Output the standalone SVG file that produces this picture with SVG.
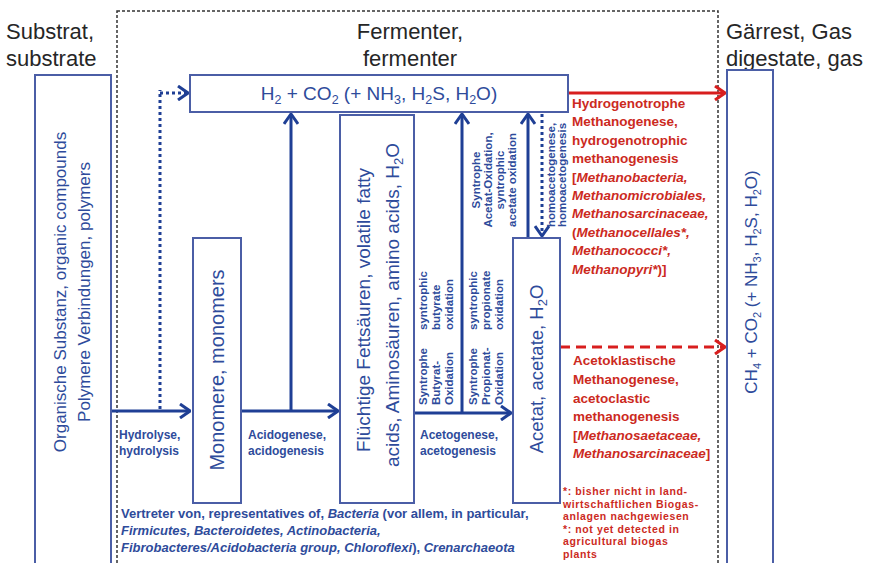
<svg xmlns="http://www.w3.org/2000/svg" width="880" height="563" viewBox="0 0 880 563">
<style>
.hdr{font-family:"Liberation Sans",Arial,sans-serif;font-size:22px;fill:#262626}
.box{fill:#fff;stroke:#4b5ea6;stroke-width:2}
.bt{font-family:"Liberation Sans",Arial,sans-serif;fill:#2e4b9b}
.lab{font-family:"Liberation Sans",Arial,sans-serif;font-size:12px;font-weight:bold;fill:#2e4b9b}
.bot{font-family:"Liberation Sans",Arial,sans-serif;font-size:13px;font-weight:bold;fill:#2e4b9b}
.sm{font-family:"Liberation Sans",Arial,sans-serif;font-size:11.5px;font-weight:bold;fill:#2e4b9b}
.red{font-family:"Liberation Sans",Arial,sans-serif;font-size:13.5px;font-weight:bold;fill:#cc2a1e}
.fn{font-family:"Liberation Sans",Arial,sans-serif;font-size:10.5px;letter-spacing:0.6px;font-weight:bold;fill:#cc2a1e}
.ar{fill:none;stroke:#1f3f95;stroke-width:3}
.ard{fill:none;stroke:#1f3f95;stroke-width:3;stroke-dasharray:3 3}
.rr{fill:none;stroke:#d81e1e;stroke-width:3}
</style>
<defs>
<marker id="hb" viewBox="0 0 12 16" markerWidth="12" markerHeight="16" markerUnits="userSpaceOnUse" refX="11" refY="8" orient="auto"><path d="M1,1 L11,8 L1,15" fill="none" stroke="#1f3f95" stroke-width="3"/></marker>
<marker id="hr" viewBox="0 0 12 16" markerWidth="12" markerHeight="16" markerUnits="userSpaceOnUse" refX="11" refY="8" orient="auto"><path d="M1,1 L11,8 L1,15" fill="none" stroke="#d81e1e" stroke-width="3"/></marker>
</defs>
<rect width="880" height="563" fill="#fff"/>
<rect x="117" y="11" width="601" height="570" fill="none" stroke="#333" stroke-width="1.5" stroke-dasharray="3 2"/>
<text class="hdr" x="6" y="39">Substrat,</text>
<text class="hdr" x="6" y="66">substrate</text>
<text class="hdr" x="410" y="39" text-anchor="middle">Fermenter,</text>
<text class="hdr" x="410" y="66" text-anchor="middle">fermenter</text>
<text class="hdr" x="726" y="39">Gärrest, Gas</text>
<text class="hdr" x="726" y="66">digestate, gas</text>

<g id="connectors">
<path class="ar" d="M111,411 H190" marker-end="url(#hb)"/>
<path class="ard" d="M160,409 V90 M160,93 H188" marker-end="url(#hb)"/>
<path class="ar" d="M241,411 H338" marker-end="url(#hb)"/>
<path class="ar" d="M291,411 V114" marker-end="url(#hb)"/>
<path class="ar" d="M414,413 H511" marker-end="url(#hb)"/>
<path class="ar" d="M462,413 V114" marker-end="url(#hb)"/>
<path class="ar" d="M528,238 V114" marker-end="url(#hb)"/>
<path class="ard" d="M542,114 V236" marker-end="url(#hb)"/>
<path class="rr" d="M568,93 H725" marker-end="url(#hr)"/>
<path class="rr" d="M560,347 H725" stroke-dasharray="10 6" marker-end="url(#hr)"/>
</g>

<g id="organic">
<rect class="box" x="35" y="75" width="76" height="500"/>
<text class="bt" font-size="17" transform="translate(66,292) rotate(-90)" text-anchor="middle">Organische Substanz, organic compounds</text>
<text class="bt" font-size="17" transform="translate(90,292) rotate(-90)" text-anchor="middle">Polymere Verbindungen, polymers</text>
</g>

<g id="gas">
<rect class="box" x="190" y="75" width="378" height="37"/>
<text class="bt" font-size="19" x="379" y="100" text-anchor="middle">H<tspan font-size="12.5" dy="4">2</tspan><tspan dy="-4"> + CO</tspan><tspan font-size="12.5" dy="4">2</tspan><tspan dy="-4"> (+ NH</tspan><tspan font-size="12.5" dy="4">3</tspan><tspan dy="-4">, H</tspan><tspan font-size="12.5" dy="4">2</tspan><tspan dy="-4">S, H</tspan><tspan font-size="12.5" dy="4">2</tspan><tspan dy="-4">O)</tspan></text>
</g>

<g id="monomere">
<rect class="box" x="193" y="238" width="48" height="265"/>
<text class="bt" font-size="20" transform="translate(224,370) rotate(-90)" text-anchor="middle">Monomere, monomers</text>
</g>

<g id="fatty">
<rect class="box" x="340" y="115" width="74" height="388"/>
<text class="bt" font-size="19" transform="translate(370,310) rotate(-90)" text-anchor="middle">Flüchtige Fettsäuren, volatile fatty</text>
<text class="bt" font-size="19" transform="translate(399,305) rotate(-90)" text-anchor="middle">acids, Aminosäuren, amino acids, H<tspan font-size="13" dy="4">2</tspan><tspan dy="-4">O</tspan></text>
</g>

<g id="acetat">
<rect class="box" x="513" y="238" width="47" height="265"/>
<text class="bt" font-size="18.5" transform="translate(543,369) rotate(-90)" text-anchor="middle">Acetat, acetate, H<tspan font-size="13" dy="4">2</tspan><tspan dy="-4">O</tspan></text>
</g>

<g id="products">
<rect class="box" x="727" y="70" width="46" height="505"/>
<text class="bt" font-size="17" transform="translate(757,282) rotate(-90)" text-anchor="middle">CH<tspan font-size="11" dy="4">4</tspan><tspan dy="-4"> + CO</tspan><tspan font-size="11" dy="4">2</tspan><tspan dy="-4"> (+ NH</tspan><tspan font-size="11" dy="4">3</tspan><tspan dy="-4">, H</tspan><tspan font-size="11" dy="4">2</tspan><tspan dy="-4">S, H</tspan><tspan font-size="11" dy="4">2</tspan><tspan dy="-4">O)</tspan></text>
</g>

<g id="process-labels">
<text class="lab" x="119" y="439">Hydrolyse,</text>
<text class="lab" x="119" y="455">hydrolysis</text>
<text class="lab" x="248" y="439">Acidogenese,</text>
<text class="lab" x="248" y="455">acidogenesis</text>
<text class="lab" x="420" y="439">Acetogenese,</text>
<text class="lab" x="420" y="455">acetogenesis</text>

<text class="sm" transform="translate(427,405) rotate(-90)">Syntrophe</text>
<text class="sm" transform="translate(440,405) rotate(-90)">Butyrat-</text>
<text class="sm" transform="translate(453,405) rotate(-90)">Oxidation</text>
<text class="sm" transform="translate(427,330) rotate(-90)">syntrophic</text>
<text class="sm" transform="translate(440,330) rotate(-90)">butyrate</text>
<text class="sm" transform="translate(453,330) rotate(-90)">oxidation</text>

<text class="sm" transform="translate(477,405) rotate(-90)">Syntrophe</text>
<text class="sm" transform="translate(490,405) rotate(-90)">Propionat-</text>
<text class="sm" transform="translate(503,405) rotate(-90)">Oxidation</text>
<text class="sm" transform="translate(477,330) rotate(-90)">syntrophic</text>
<text class="sm" transform="translate(490,330) rotate(-90)">propionate</text>
<text class="sm" transform="translate(503,330) rotate(-90)">oxidation</text>

<text class="sm" text-anchor="middle" transform="translate(480,180) rotate(-90)">Syntrophe</text>
<text class="sm" text-anchor="middle" transform="translate(492,180) rotate(-90)">Acetat-Oxidation,</text>
<text class="sm" text-anchor="middle" transform="translate(504,180) rotate(-90)">syntrophic</text>
<text class="sm" text-anchor="middle" transform="translate(516,180) rotate(-90)">acetate oxidation</text>

<text class="sm" text-anchor="middle" transform="translate(555,175) rotate(-90)">homoacetogenese,</text>
<text class="sm" text-anchor="middle" transform="translate(566,175) rotate(-90)">homoacetogenesis</text>

<text class="bot" x="121" y="518">Vertreter von, representatives of, <tspan font-style="italic">Bacteria</tspan>  (vor allem, in particular,</text>
<text class="bot" x="121" y="535" font-style="italic">Firmicutes, Bacteroidetes, Actinobacteria,</text>
<text class="bot" x="121" y="552"><tspan font-style="italic">Fibrobacteres/Acidobacteria group,  Chloroflexi</tspan>), <tspan font-style="italic">Crenarchaeota</tspan></text>
</g>

<g id="methanogenesis-labels">
<text class="red" x="572" y="108">Hydrogenotrophe</text>
<text class="red" x="572" y="126">Methanogenese,</text>
<text class="red" x="572" y="145">hydrogenotrophic</text>
<text class="red" x="572" y="163">methanogenesis</text>
<text class="red" x="572" y="182">[<tspan font-style="italic">Methanobacteria,</tspan></text>
<text class="red" x="572" y="200" font-style="italic">Methanomicrobiales,</text>
<text class="red" x="572" y="218" font-style="italic">Methanosarcinaceae,</text>
<text class="red" x="572" y="237">(<tspan font-style="italic">Methanocellales*,</tspan></text>
<text class="red" x="572" y="255" font-style="italic">Methanococci*,</text>
<text class="red" x="572" y="274"><tspan font-style="italic">Methanopyri*</tspan>)]</text>

<text class="red" x="573" y="365">Acetoklastische</text>
<text class="red" x="573" y="384">Methanogenese,</text>
<text class="red" x="573" y="403">acetoclastic</text>
<text class="red" x="573" y="421">methanogenesis</text>
<text class="red" x="573" y="440">[<tspan font-style="italic">Methanosaetaceae,</tspan></text>
<text class="red" x="573" y="458"><tspan font-style="italic">Methanosarcinaceae</tspan>]</text>

<text class="fn" x="563" y="495">*: bisher nicht in land-</text>
<text class="fn" x="563" y="507.5">wirtschaftlichen Biogas-</text>
<text class="fn" x="563" y="520">anlagen nachgewiesen</text>
<text class="fn" x="563" y="532.5">*: not yet detected in</text>
<text class="fn" x="563" y="545">agricultural biogas</text>
<text class="fn" x="563" y="557.5">plants</text>
</g>
</svg>
